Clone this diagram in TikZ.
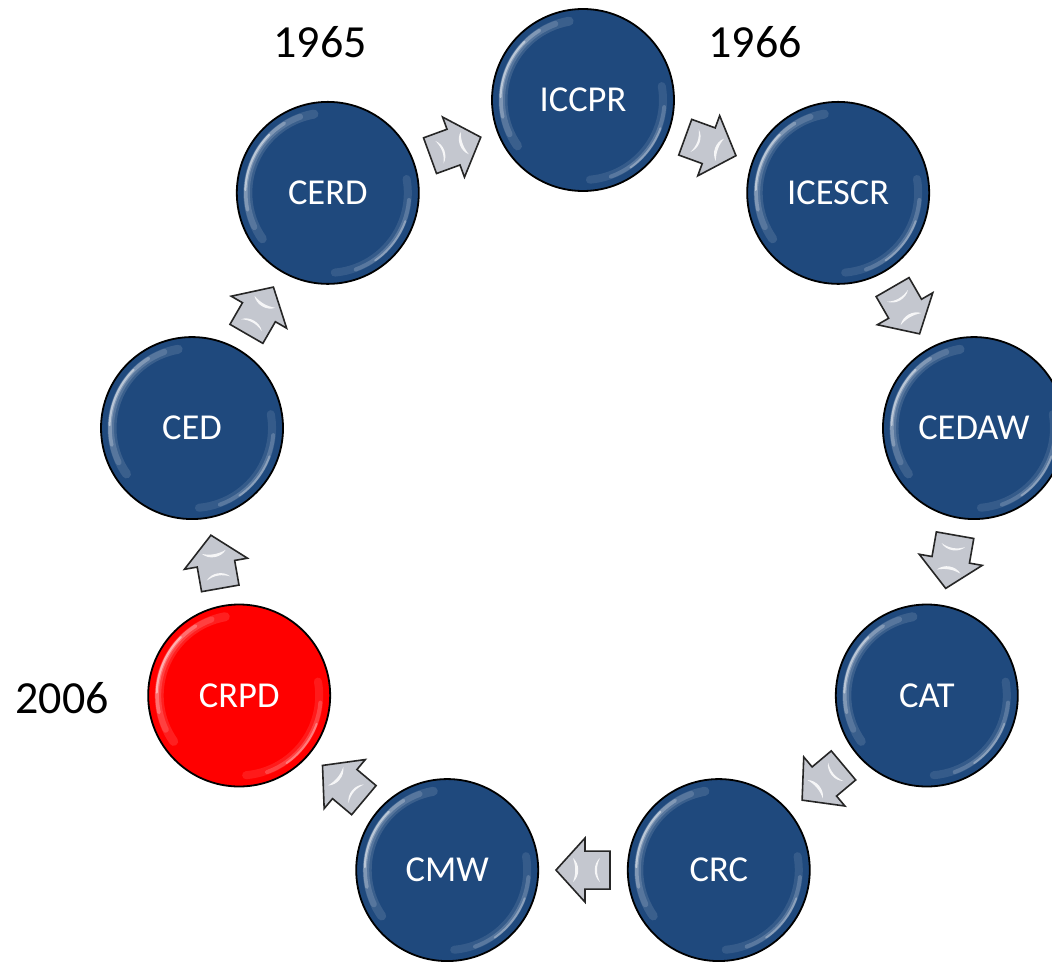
\documentclass[tikz,border=0pt]{standalone}
\usepackage{fontspec}
\setmainfont{Carlito}
\usetikzlibrary{calc}
\definecolor{ballblue}{HTML}{1F497D}
\definecolor{ballred}{HTML}{FF0000}
\definecolor{arrowgray}{HTML}{C4C7CF}
\tikzset{
  ball/.style={circle, draw=black, line width=1.8pt, minimum size=182pt, inner sep=0pt,
    text=white, font=\fontsize{36.5pt}{40pt}\selectfont},
  yearlbl/.style={font=\fontsize{46pt}{50pt}\selectfont, text=black, inner sep=0pt},
  blockarrow/.style={fill=arrowgray, draw=black!85, line width=1.6pt, line join=miter},
  gloss/.style={white, line cap=round},
}
\begin{document}
\begin{tikzpicture}[x=1pt,y=1pt]
\useasboundingbox (-583,-465) rectangle (469,497);
% circles
\foreach \i/\lbl/\col in {0/ICCPR/ballblue,1/ICESCR/ballblue,2/CEDAW/ballblue,3/CAT/ballblue,4/CRC/ballblue,5/CMW/ballblue,6/CRPD/ballred,7/CED/ballblue,8/CERD/ballblue}{
  \pgfmathsetmacro{\ang}{90-40*\i}
  \node[ball, fill=\col] (n\i) at (\ang:397pt) {};
  \begin{scope}[shift={(n\i.center)}]
    \draw[gloss, opacity=0.12, line width=9pt] (100:80pt) arc[start angle=100, end angle=215, radius=80pt];
    \draw[gloss, opacity=0.15, line width=6pt] (110:81pt) arc[start angle=110, end angle=205, radius=81pt];
    \draw[gloss, opacity=0.25, line width=3.5pt] (122:82pt) arc[start angle=122, end angle=192, radius=82pt];
    \draw[gloss, opacity=0.45, line width=2pt] (135:82.5pt) arc[start angle=135, end angle=178, radius=82.5pt];
    \draw[gloss, opacity=0.10, line width=8pt] (-85:80pt) arc[start angle=-85, end angle=10, radius=80pt];
    \draw[gloss, opacity=0.18, line width=4pt] (-70:81.5pt) arc[start angle=-70, end angle=-5, radius=81.5pt];
    \draw[gloss, opacity=0.3, line width=2pt] (-55:82.5pt) arc[start angle=-55, end angle=-20, radius=82.5pt];
  \end{scope}
  \node[text=white, font=\fontsize{36.5pt}{40pt}\selectfont] (t\i) at (n\i.center) {\lbl};
}
% block arrows between consecutive circles
\foreach \i/\j in {8/0,0/1,1/2,2/3,3/4,4/5,5/6,6/7,7/8}{
  \pgfmathsetmacro{\phi}{90-40*\i-20}
  \pgfmathsetmacro{\rot}{\phi-90}
  \coordinate (m\i) at ($(n\i)!0.5!(n\j)$);
  \begin{scope}[shift={(m\i)}, rotate=\rot]
    \draw[blockarrow] (27,0) -- (-2,32) -- (-2,19) -- (-27,19) -- (-27,-19) -- (-2,-19) -- (-2,-32) -- cycle;
    \fill[white, opacity=0.85] (-17,12) .. controls (-10,6) and (-10,-6) .. (-17,-12) .. controls (-13,-4) and (-13,4) .. (-17,12);
    \fill[white, opacity=0.85] (10,12) .. controls (3,6) and (3,-6) .. (10,-12) .. controls (7,-4) and (7,4) .. (10,12);
  \end{scope}
}
% year labels
\node[yearlbl] (y1965) at (-263,455) {1965};
\node[yearlbl] (y1966) at (172,455) {1966};
\node[yearlbl] (y2006) at (-521,-201) {2006};
\end{tikzpicture}
\end{document}
